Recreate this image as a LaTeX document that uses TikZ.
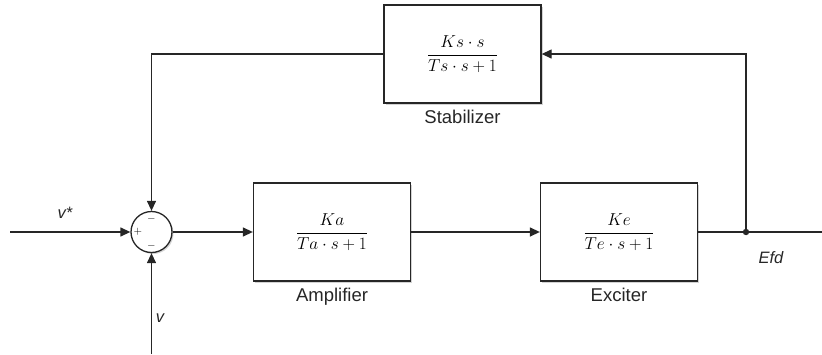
\documentclass[tikz,border=0pt]{standalone}
\usepackage{amsmath}
\usepackage{fontspec}
\setsansfont{Liberation Sans}
\usetikzlibrary{arrows.meta,positioning,shadows}

\begin{document}
\begin{tikzpicture}[
        x=1pt, y=-1pt,
        block/.style={
            rectangle,
            draw=black!85,
            line width=1.3pt,
            fill=white,
            minimum width=157pt,
            minimum height=98pt,
            inner sep=0pt,
            drop shadow={shadow xshift=1.5pt, shadow yshift=-1.5pt, opacity=0.35},
            font=\fontsize{17}{20}\selectfont
        },
        caption/.style={
            font=\sffamily\fontsize{18.5}{22}\selectfont,
            text=black!85,
            inner sep=0pt
        },
        sum/.style={
            circle,
            draw=black!85,
            line width=1.3pt,
            fill=white,
            minimum size=41pt,
            inner sep=0pt,
            drop shadow={shadow xshift=1.5pt, shadow yshift=-1.5pt, opacity=0.35}
        },
        sign/.style={
            font=\fontsize{11}{12}\selectfont,
            inner sep=0pt
        },
        signal/.style={
            font=\sffamily\itshape\fontsize{16.5}{19}\selectfont,
            text=black!85,
            inner sep=0pt
        },
        arrow/.style={
            -{Triangle[length=10pt,width=9pt]},
            line width=1.3pt,
            draw=black!85
        },
        wire/.style={
            line width=1.3pt,
            draw=black!85
        }
    ]

        \useasboundingbox (0,0) rectangle (822,354);

        \node[sum] (sum) at (151.5,232) {};
        \node[sign] (sgntop) [below=4pt of sum.north] {$-$};
        \node[sign] (sgnleft) [right=3pt of sum.west] {$+$};
        \node[sign] (sgnbot) [above=4pt of sum.south] {$-$};

        \node[block] (amp) at (332,232) {$\dfrac{Ka}{Ta\cdot s+1}$};
        \node[block] (exc) at (619,232) {$\dfrac{Ke}{Te\cdot s+1}$};
        \node[block] (stab) at (462.5,54) {$\dfrac{Ks\cdot s}{Ts\cdot s+1}$};

        \node[caption] (amplbl) [below=6pt of amp] {Amplifier};
        \node[caption] (exclbl) [below=6pt of exc] {Exciter};
        \node[caption] (stablbl) [below=6pt of stab] {Stabilizer};

        \coordinate (in) at (10,232);
        \coordinate (out) at (822,232);
        \coordinate (branch) at (746,232);
        \coordinate (vin) at (151.5,354);

        \node[signal] (vref) at (65,213) {v*};
        \node[signal] (vmeas) at (160,318) {v};
        \node[signal] (efd) at (771,258) {Efd};

        \draw[arrow] (in) -- (sum.west);
        \draw[arrow] (sum.east) -- (amp.west);
        \draw[arrow] (amp.east) -- (exc.west);
        \draw[wire] (exc.east) -- (out);
        \fill[black!85] (branch) circle (3.2pt);
        \draw[arrow] (branch) |- (stab.east);
        \draw[arrow] (stab.west) -| (sum.north);
        \draw[arrow] (vin) -- (sum.south);

    \end{tikzpicture}
\end{document}
